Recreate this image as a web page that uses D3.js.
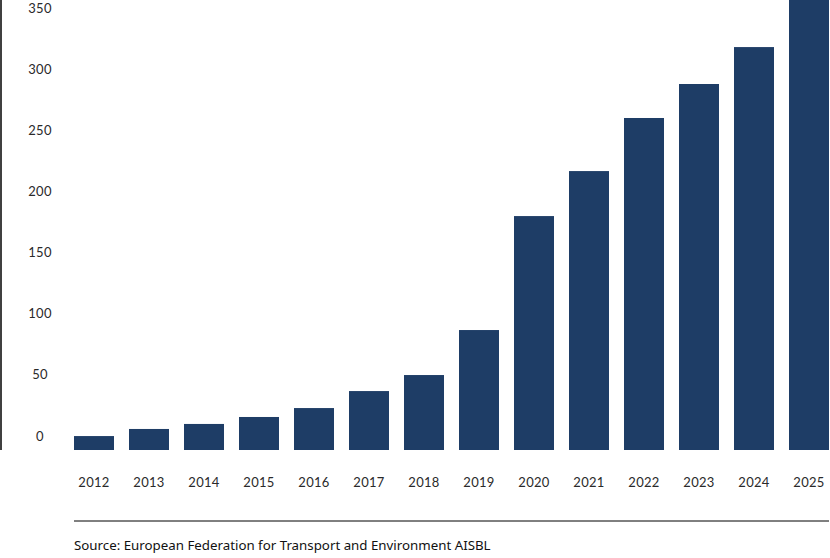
<!DOCTYPE html>
<html>
<head>
    <script src="https://cdnjs.cloudflare.com/ajax/libs/d3/7.8.5/d3.min.js"></script>
    <style>
        body { margin: 0; background: #fff; }
        svg { display: block; }
        .tick-label { font-family: "Lato", "Noto Sans", sans-serif; font-size: 13px; fill: #2a2a2a; letter-spacing: 0.3px; }
        .source { font-family: "Noto Sans", "Open Sans", sans-serif; font-size: 13.3px; fill: #111; }
    </style>
</head>
<body>
    <div id="chart"></div>
    <script>
        // Data
        const years = ["2012", "2013", "2014", "2015", "2016", "2017", "2018",
                       "2019", "2020", "2021", "2022", "2023", "2024", "2025"];
        const values = [11.4, 17.2, 21.3, 27, 34.3, 48.2, 61.3,
                        98.1, 191.3, 228.1, 271.5, 299.3, 329.5, 380];
        const yTicks = [0, 50, 100, 150, 200, 250, 300, 350];
        const source = "Source: European Federation for Transport and Environment AISBL";

        const width = 830;
        const height = 558;
        const svg = d3.select("#chart")
            .append("svg")
            .attr("width", width)
            .attr("height", height);

        // baseline at 450, 350 sits at ~22
        const y = d3.scaleLinear()
            .domain([0, 350])
            .range([450, 22]);

        const x = d3.scaleBand()
            .domain(years)
            .range([74, 829])
            .paddingInner(15 / 55)
            .paddingOuter(0);

        svg.append("defs").append("clipPath")
            .attr("id", "plot-clip")
            .append("rect")
            .attr("x", 0).attr("y", 0)
            .attr("width", width).attr("height", 450);

        // bars
        svg.append("g")
            .attr("clip-path", "url(#plot-clip)")
            .selectAll("rect")
            .data(values)
            .enter()
            .append("rect")
            .attr("x", (d, i) => x(years[i]))
            .attr("y", d => y(d))
            .attr("width", x.bandwidth())
            .attr("height", d => y(0) - y(d))
            .attr("fill", "#1e3d66");

        // left axis line
        svg.append("line")
            .attr("x1", 1).attr("x2", 1)
            .attr("y1", 0).attr("y2", y(0))
            .attr("stroke", "#000")
            .attr("stroke-width", 1.5);

        // y labels sit a bit above their value
        svg.append("g")
            .selectAll("text")
            .data(yTicks)
            .enter()
            .append("text")
            .attr("class", "tick-label")
            .attr("x", 40)
            .attr("y", d => y(d) - 14)
            .attr("dy", "0.35em")
            .attr("text-anchor", "middle")
            .text(d => d);

        // x labels
        svg.append("g")
            .selectAll("text")
            .data(years)
            .enter()
            .append("text")
            .attr("class", "tick-label")
            .attr("x", d => x(d) + x.bandwidth() / 2)
            .attr("y", 482)
            .attr("dy", "0.35em")
            .attr("text-anchor", "middle")
            .text(d => d);

        // footer rule and source
        svg.append("line")
            .attr("x1", 74).attr("x2", 829)
            .attr("y1", 521).attr("y2", 521)
            .attr("stroke", "#000")
            .attr("stroke-width", 1);

        svg.append("text")
            .attr("class", "source")
            .attr("x", 74)
            .attr("y", 545)
            .attr("dy", "0.35em")
            .text(source);
    </script>
</body>
</html>
